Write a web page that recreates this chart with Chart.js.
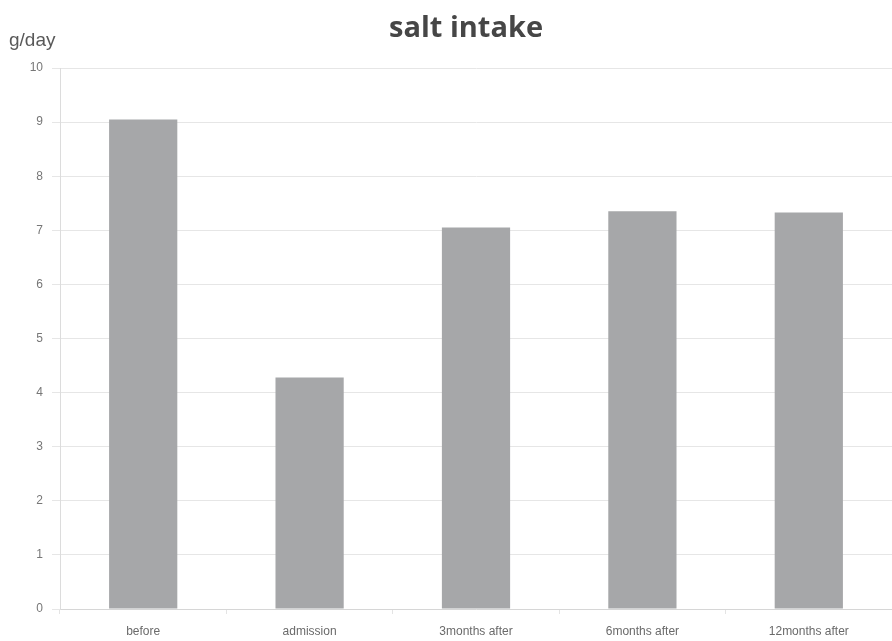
<!DOCTYPE html>
<html>
<head>
<meta charset="utf-8">
<script src="https://cdn.jsdelivr.net/npm/chart.js@4/dist/chart.umd.min.js"></script>
<style>
  html, body { margin: 0; padding: 0; background: #ffffff; }
  #wrap { width: 892px; height: 641px; position: relative; }
</style>
</head>
<body>
<div id="wrap"><canvas id="c" width="892" height="641"></canvas></div>
<script>
// Daily salt intake at each point of follow-up
const categories = ['before', 'admission', '3months after', '6months after', '12months after'];
const saltIntake = [9.05, 4.28, 7.05, 7.35, 7.33];
const yTicks = [0, 1, 2, 3, 4, 5, 6, 7, 8, 9, 10];
const chartTitle = 'salt intake';
const unitLabel = 'g/day';

// Title and unit label drawn at fixed spots above the plot
const headerText = {
  id: 'headerText',
  afterDraw(chart) {
    const ctx = chart.ctx;
    ctx.save();
    ctx.fillStyle = '#464646';
    ctx.textBaseline = 'alphabetic';
    ctx.textAlign = 'center';
    ctx.font = 'bold 29px "Open Sans", "Noto Sans", sans-serif';
    ctx.fillText(chartTitle, 466, 37);
    ctx.textAlign = 'left';
    ctx.font = '19px "Liberation Sans", Arial, sans-serif';
    ctx.fillStyle = '#595959';
    ctx.fillText(unitLabel, 9, 46);
    ctx.restore();
  }
};

new Chart(document.getElementById('c'), {
  type: 'bar',
  data: {
    labels: categories,
    datasets: [{
      data: saltIntake,
      backgroundColor: '#a6a7a9',
      borderWidth: 0,
      barPercentage: 0.41,
      categoryPercentage: 1.0
    }]
  },
  options: {
    responsive: false,
    animation: false,
    layout: { padding: { top: 68, right: 0, left: 0, bottom: 0 } },
    plugins: {
      legend: { display: false },
      title: { display: false },
      tooltip: { enabled: false }
    },
    scales: {
      x: {
        grid: {
          display: true,
          drawOnChartArea: false,
          offset: true,
          tickLength: 5,
          color: '#e4e4e4'
        },
        border: { display: true, color: '#d6d6d6', width: 1 },
        ticks: {
          color: '#6a6a6a',
          font: { family: '"Liberation Sans", sans-serif', size: 12 },
          padding: 10,
          maxRotation: 0,
          autoSkip: false
        },
        afterFit(scale) { scale.height = 32; }
      },
      y: {
        min: 0,
        max: 10,
        afterBuildTicks(scale) { scale.ticks = yTicks.map(v => ({ value: v })); },
        grid: {
          color: '#e6e6e6',
          tickLength: 8,
          lineWidth: 1
        },
        border: { display: true, color: '#dcdcdc', width: 1 },
        ticks: {
          color: '#777777',
          font: { family: '"Liberation Sans", sans-serif', size: 12 },
          padding: 9
        },
        afterFit(scale) { scale.width = 60; }
      }
    }
  },
  plugins: [headerText]
});
</script>
</body>
</html>
